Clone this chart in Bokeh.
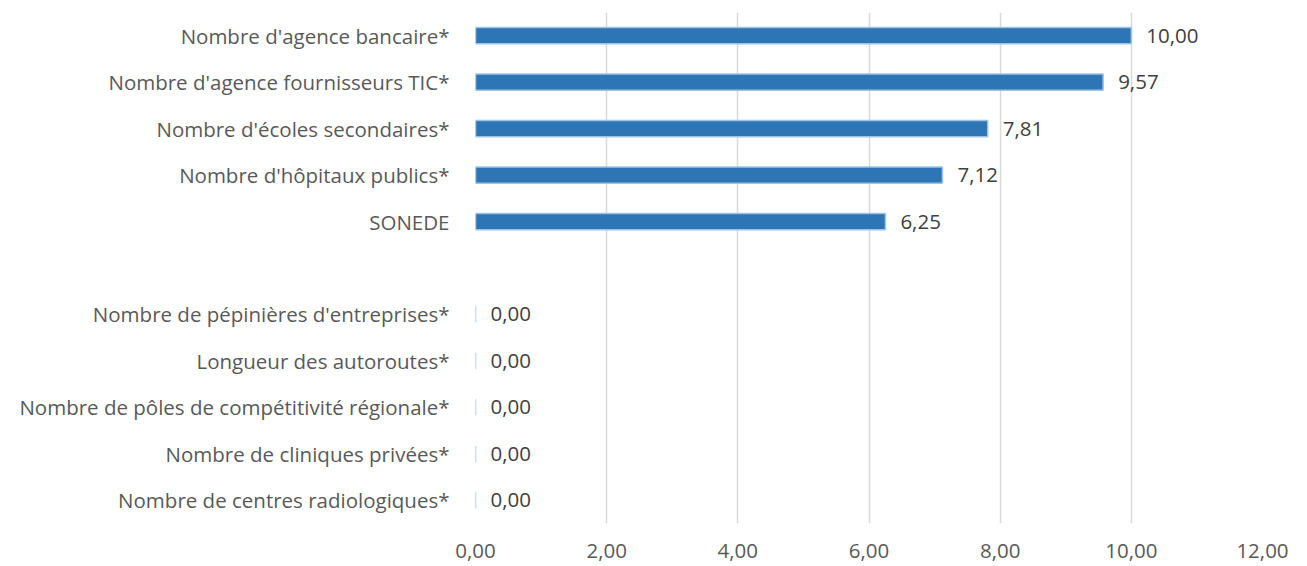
from bokeh.plotting import figure
from bokeh.models import ColumnDataSource, FactorRange, FixedTicker, CustomJSTickFormatter
from bokeh.core.properties import value
from bokeh.embed import file_html
from bokeh.resources import INLINE

categories = [
    "Nombre d'agence bancaire*",
    "Nombre d'agence fournisseurs TIC*",
    "Nombre d'écoles secondaires*",
    "Nombre d'hôpitaux publics*",
    "SONEDE",
    " ",
    "Nombre de pépinières d'entreprises*",
    "Longueur des autoroutes*",
    "Nombre de pôles de compétitivité régionale*",
    "Nombre de cliniques privées*",
    "Nombre de centres radiologiques*",
]
values = [10.00, 9.57, 7.81, 7.12, 6.25, None, 0.00, 0.00, 0.00, 0.00, 0.00]
x_ticks = [0, 2, 4, 6, 8, 10, 12]

FONT = "Open Sans"
FS = "20.5px"

cats = [c for c, v in zip(categories, values) if v is not None]
vals = [v for v in values if v is not None]
labels = [f"{v:.2f}".replace(".", ",") for v in vals]
src = ColumnDataSource(dict(cat=cats, val=vals, lab=labels))

p = figure(width=1291, height=566, output_backend="svg", toolbar_location=None,
           y_range=FactorRange(factors=list(reversed(categories))),
           x_range=(0, 12),
           min_border_left=475, min_border_right=29, min_border_top=12, min_border_bottom=43)

p.hbar(y="cat", right="val", left=0, height=0.35, source=src,
       fill_color="#2E75B6", line_color="#9DC3E6", line_width=1.5)
p.text(x="val", y="cat", text="lab", source=src, x_offset=15,
       text_baseline="middle", text_align="left",
       text_font=value(FONT), text_font_size=FS, text_color="#404040")

p.outline_line_color = None
p.ygrid.grid_line_color = None
p.xgrid.grid_line_color = "#D9D9D9"
p.xgrid.grid_line_width = 1.5

p.xaxis.ticker = FixedTicker(ticks=x_ticks)
p.xaxis.formatter = CustomJSTickFormatter(code="return tick.toFixed(2).replace('.', ',');")
p.xaxis.axis_line_color = None
p.xaxis.major_tick_line_color = None
p.xaxis.minor_tick_line_color = None
p.xaxis.major_label_standoff = 14
p.xaxis.major_label_text_font = FONT
p.xaxis.major_label_text_font_size = FS
p.xaxis.major_label_text_color = "#595959"

p.yaxis.axis_line_color = None
p.yaxis.major_tick_line_color = None
p.yaxis.minor_tick_line_color = None
p.yaxis.major_label_standoff = 20
p.yaxis.major_label_text_font = FONT
p.yaxis.major_label_text_font_size = FS
p.yaxis.major_label_text_color = "#595959"

open("out.html", "w").write(file_html(p, INLINE))
